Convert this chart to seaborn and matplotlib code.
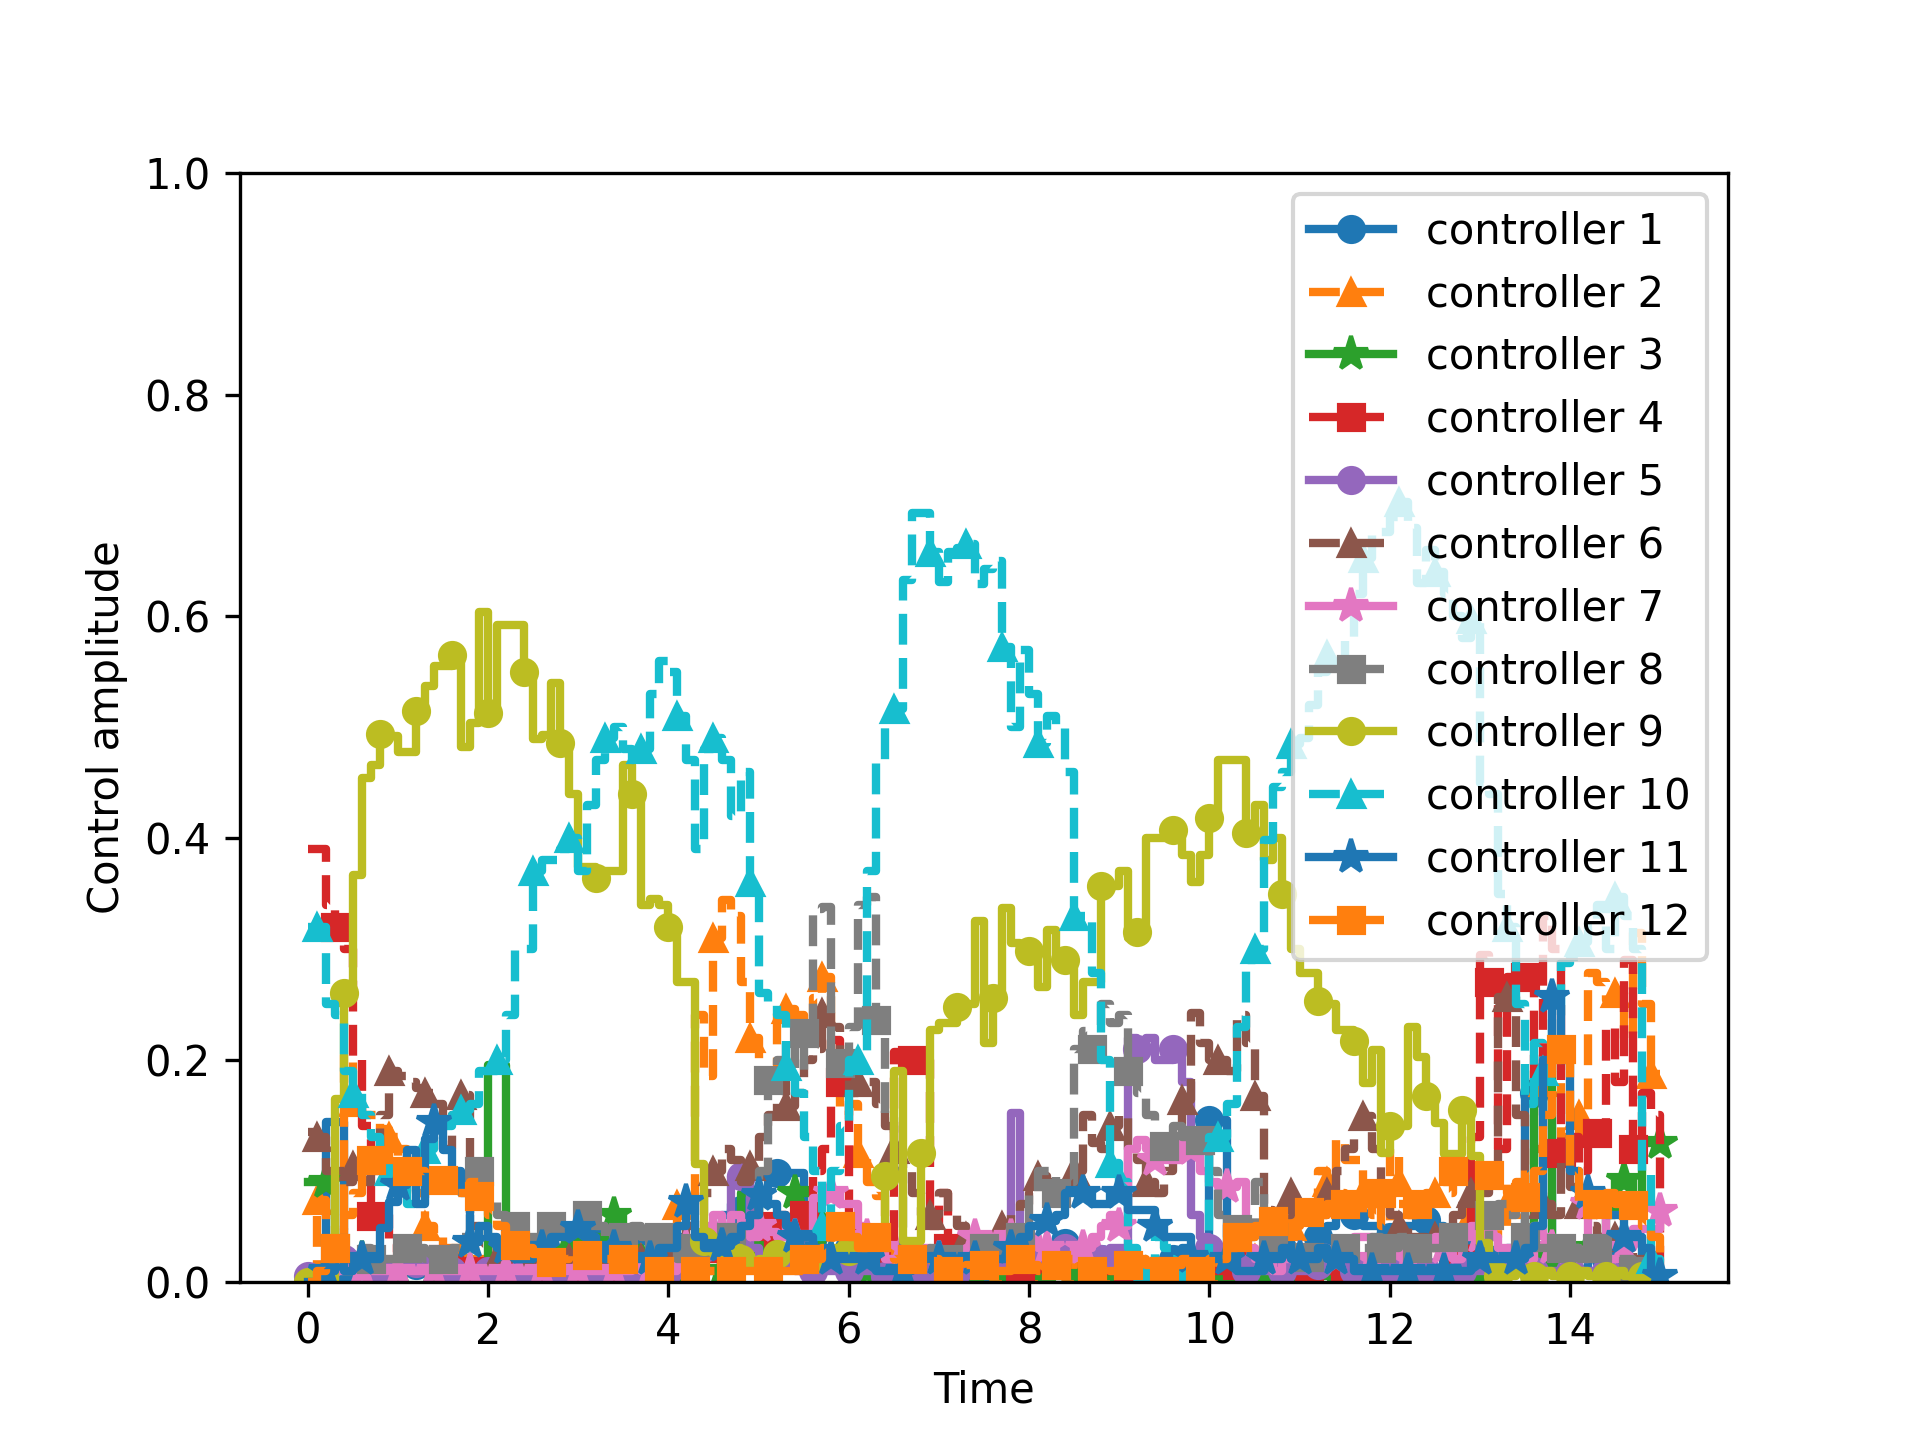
"""
Control amplitudes of 12 controllers over time (step plot)
"""

import numpy as np
import matplotlib
matplotlib.use("Agg")
import matplotlib.pyplot as plt
import seaborn as sbn

# time grid, 0.1 per slot, 0 .. 15
time = [round(0.1 * i, 1) for i in range(151)]

ctrl_1 = [
    0.0, 0.01, 0.144, 0.144, 0.01, 0.005, 0.005, 0.005, 0.005, 0.01,
    0.01, 0.01, 0.015, 0.01, 0.01, 0.02, 0.02, 0.015, 0.01, 0.01,
    0.01, 0.01, 0.015, 0.02, 0.02, 0.015, 0.01, 0.01, 0.015, 0.02,
    0.03, 0.03, 0.04, 0.035, 0.03, 0.03, 0.04, 0.04, 0.035, 0.03,
    0.03, 0.04, 0.03, 0.02, 0.03, 0.05, 0.06, 0.07, 0.065, 0.07,
    0.075, 0.098, 0.098, 0.098, 0.098, 0.03, 0.04, 0.05, 0.045, 0.04,
    0.03, 0.02, 0.02, 0.015, 0.01, 0.02, 0.02, 0.02, 0.015, 0.01,
    0.01, 0.015, 0.02, 0.02, 0.015, 0.01, 0.01, 0.02, 0.03, 0.02,
    0.02, 0.025, 0.03, 0.04, 0.035, 0.03, 0.03, 0.02, 0.02, 0.02,
    0.02, 0.015, 0.01, 0.01, 0.015, 0.02, 0.02, 0.03, 0.02, 0.02,
    0.146, 0.146, 0.02, 0.01, 0.01, 0.01, 0.02, 0.03, 0.03, 0.03,
    0.03, 0.04, 0.04, 0.05, 0.06, 0.06, 0.06, 0.05, 0.05, 0.04,
    0.04, 0.05, 0.05, 0.05, 0.056, 0.05, 0.04, 0.04, 0.03, 0.03,
    0.02, 0.02, 0.02, 0.03, 0.03, 0.17, 0.17, 0.15, 0.02, 0.02,
    0.01, 0.01, 0.02, 0.02, 0.02, 0.01, 0.04, 0.04, 0.01, 0.01,
    0.0]

ctrl_2 = [
    0.0, 0.074, 0.05, 0.02, 0.204, 0.162, 0.15, 0.15, 0.138, 0.13,
    0.12, 0.10, 0.08, 0.05, 0.04, 0.03, 0.03, 0.02, 0.02, 0.02,
    0.02, 0.015, 0.02, 0.02, 0.02, 0.025, 0.02, 0.02, 0.015, 0.02,
    0.02, 0.015, 0.02, 0.02, 0.015, 0.02, 0.02, 0.02, 0.015, 0.02,
    0.02, 0.069, 0.07, 0.24, 0.185, 0.31, 0.344, 0.33, 0.27, 0.22,
    0.19, 0.19, 0.246, 0.246, 0.24, 0.23, 0.256, 0.275, 0.19, 0.15,
    0.16, 0.116, 0.09, 0.077, 0.03, 0.02, 0.02, 0.015, 0.01, 0.01,
    0.01, 0.01, 0.01, 0.015, 0.01, 0.01, 0.01, 0.01, 0.015, 0.01,
    0.01, 0.01, 0.01, 0.02, 0.01, 0.01, 0.01, 0.01, 0.01, 0.01,
    0.01, 0.01, 0.01, 0.01, 0.01, 0.01, 0.01, 0.01, 0.01, 0.01,
    0.01, 0.01, 0.01, 0.01, 0.02, 0.02, 0.03, 0.03, 0.04, 0.05,
    0.06, 0.07, 0.10, 0.09, 0.128, 0.11, 0.11, 0.08, 0.07, 0.05,
    0.12, 0.09, 0.06, 0.06, 0.07, 0.08, 0.08, 0.11, 0.094, 0.06,
    0.05, 0.04, 0.05, 0.07, 0.09, 0.10, 0.12, 0.18, 0.21, 0.13,
    0.12, 0.15, 0.278, 0.27, 0.254, 0.26, 0.22, 0.314, 0.25, 0.187,
    0.187]

ctrl_3 = [
    0.09, 0.09, 0.09, 0.02, 0.01, 0.01, 0.02, 0.02, 0.01, 0.01,
    0.01, 0.01, 0.01, 0.01, 0.01, 0.01, 0.01, 0.01, 0.01, 0.01,
    0.195, 0.195, 0.02, 0.02, 0.02, 0.02, 0.02, 0.03, 0.03, 0.03,
    0.03, 0.03, 0.04, 0.05, 0.06, 0.04, 0.03, 0.02, 0.02, 0.01,
    0.01, 0.01, 0.01, 0.01, 0.01, 0.01, 0.01, 0.01, 0.08, 0.08,
    0.03, 0.03, 0.04, 0.05, 0.08, 0.08, 0.06, 0.03, 0.02, 0.02,
    0.02, 0.01, 0.01, 0.01, 0.01, 0.01, 0.005, 0.005, 0.005, 0.005,
    0.005, 0.005, 0.005, 0.005, 0.005, 0.005, 0.005, 0.005, 0.005, 0.005,
    0.005, 0.005, 0.005, 0.005, 0.005, 0.005, 0.005, 0.005, 0.005, 0.005,
    0.005, 0.005, 0.005, 0.005, 0.005, 0.005, 0.005, 0.005, 0.005, 0.005,
    0.005, 0.005, 0.005, 0.005, 0.005, 0.005, 0.005, 0.005, 0.005, 0.005,
    0.005, 0.005, 0.005, 0.005, 0.005, 0.005, 0.005, 0.005, 0.005, 0.005,
    0.005, 0.005, 0.005, 0.005, 0.005, 0.005, 0.005, 0.005, 0.005, 0.005,
    0.005, 0.005, 0.005, 0.01, 0.02, 0.02, 0.19, 0.19, 0.02, 0.02,
    0.02, 0.03, 0.03, 0.04, 0.06, 0.092, 0.092, 0.06, 0.125, 0.125,
    0.125]

ctrl_4 = [
    0.39, 0.39, 0.34, 0.32, 0.30, 0.20, 0.14, 0.059, 0.06, 0.03,
    0.02, 0.02, 0.02, 0.02, 0.015, 0.02, 0.02, 0.01, 0.01, 0.01,
    0.01, 0.01, 0.01, 0.01, 0.01, 0.015, 0.01, 0.01, 0.01, 0.01,
    0.01, 0.01, 0.01, 0.01, 0.01, 0.01, 0.01, 0.01, 0.01, 0.01,
    0.01, 0.02, 0.02, 0.03, 0.02, 0.02, 0.02, 0.03, 0.02, 0.02,
    0.03, 0.05, 0.06, 0.04, 0.04, 0.06, 0.10, 0.12, 0.218, 0.18,
    0.05, 0.031, 0.02, 0.02, 0.03, 0.207, 0.20, 0.20, 0.20, 0.05,
    0.08, 0.03, 0.02, 0.03, 0.02, 0.02, 0.02, 0.015, 0.01, 0.01,
    0.01, 0.015, 0.02, 0.015, 0.01, 0.01, 0.02, 0.015, 0.01, 0.01,
    0.01, 0.01, 0.015, 0.01, 0.01, 0.01, 0.015, 0.02, 0.01, 0.01,
    0.01, 0.01, 0.01, 0.015, 0.01, 0.01, 0.01, 0.02, 0.015, 0.01,
    0.01, 0.01, 0.015, 0.01, 0.01, 0.01, 0.01, 0.015, 0.02, 0.01,
    0.01, 0.01, 0.01, 0.015, 0.01, 0.01, 0.02, 0.02, 0.02, 0.13,
    0.295, 0.27, 0.12, 0.275, 0.28, 0.275, 0.18, 0.33, 0.30, 0.116,
    0.13, 0.10, 0.13, 0.134, 0.23, 0.18, 0.29, 0.12, 0.17, 0.15,
    0.01]

ctrl_5 = [
    0.005, 0.01, 0.01, 0.02, 0.02, 0.02, 0.01, 0.01, 0.01, 0.01,
    0.015, 0.017, 0.017, 0.02, 0.01, 0.01, 0.01, 0.01, 0.01, 0.01,
    0.01, 0.01, 0.01, 0.01, 0.01, 0.01, 0.01, 0.01, 0.01, 0.01,
    0.01, 0.01, 0.01, 0.01, 0.01, 0.01, 0.01, 0.01, 0.01, 0.01,
    0.01, 0.01, 0.01, 0.02, 0.03, 0.03, 0.04, 0.095, 0.095, 0.03,
    0.02, 0.02, 0.02, 0.02, 0.01, 0.01, 0.01, 0.01, 0.01, 0.01,
    0.01, 0.01, 0.01, 0.01, 0.005, 0.005, 0.005, 0.005, 0.005, 0.01,
    0.01, 0.01, 0.01, 0.02, 0.02, 0.02, 0.02, 0.02, 0.152, 0.02,
    0.02, 0.02, 0.02, 0.03, 0.03, 0.03, 0.02, 0.02, 0.02, 0.03,
    0.03, 0.22, 0.21, 0.22, 0.20, 0.20, 0.21, 0.18, 0.06, 0.04,
    0.03, 0.02, 0.02, 0.02, 0.01, 0.01, 0.01, 0.01, 0.01, 0.01,
    0.01, 0.01, 0.015, 0.02, 0.02, 0.015, 0.01, 0.01, 0.01, 0.01,
    0.01, 0.01, 0.01, 0.01, 0.01, 0.01, 0.01, 0.01, 0.01, 0.01,
    0.01, 0.01, 0.01, 0.01, 0.01, 0.01, 0.01, 0.01, 0.01, 0.01,
    0.01, 0.01, 0.01, 0.01, 0.01, 0.01, 0.01, 0.01, 0.01, 0.01,
    0.005]

ctrl_6 = [
    0.135, 0.13, 0.10, 0.10, 0.09, 0.104, 0.09, 0.10, 0.15, 0.19,
    0.185, 0.18, 0.175, 0.17, 0.16, 0.12, 0.15, 0.168, 0.05, 0.03,
    0.03, 0.02, 0.02, 0.02, 0.02, 0.02, 0.02, 0.02, 0.02, 0.02,
    0.02, 0.02, 0.02, 0.02, 0.02, 0.02, 0.02, 0.02, 0.02, 0.02,
    0.02, 0.03, 0.05, 0.06, 0.08, 0.10, 0.12, 0.11, 0.09, 0.104,
    0.13, 0.15, 0.18, 0.158, 0.17, 0.20, 0.21, 0.242, 0.23, 0.19,
    0.17, 0.18, 0.18, 0.16, 0.14, 0.12, 0.10, 0.08, 0.06, 0.06,
    0.08, 0.06, 0.05, 0.04, 0.03, 0.03, 0.04, 0.05, 0.06, 0.07,
    0.08, 0.095, 0.09, 0.08, 0.09, 0.10, 0.15, 0.125, 0.12, 0.14,
    0.15, 0.12, 0.11, 0.09, 0.08, 0.10, 0.13, 0.164, 0.242, 0.215,
    0.20, 0.20, 0.19, 0.24, 0.215, 0.167, 0.065, 0.05, 0.06, 0.08,
    0.06, 0.05, 0.06, 0.08, 0.10, 0.12, 0.14, 0.149, 0.12, 0.08,
    0.06, 0.05, 0.04, 0.04, 0.03, 0.04, 0.05, 0.06, 0.07, 0.08,
    0.08, 0.10, 0.257, 0.257, 0.15, 0.10, 0.08, 0.07, 0.06, 0.11,
    0.085, 0.07, 0.05, 0.04, 0.03, 0.04, 0.03, 0.02, 0.02, 0.02,
    0.01]

ctrl_7 = [
    0.0, 0.005, 0.005, 0.01, 0.01, 0.01, 0.01, 0.01, 0.01, 0.01,
    0.01, 0.01, 0.01, 0.01, 0.01, 0.01, 0.01, 0.01, 0.01, 0.01,
    0.01, 0.01, 0.01, 0.01, 0.01, 0.01, 0.01, 0.01, 0.01, 0.01,
    0.01, 0.01, 0.01, 0.01, 0.01, 0.01, 0.015, 0.01, 0.01, 0.01,
    0.01, 0.02, 0.03, 0.04, 0.05, 0.06, 0.045, 0.06, 0.05, 0.04,
    0.05, 0.045, 0.04, 0.05, 0.04, 0.04, 0.075, 0.075, 0.08, 0.07,
    0.07, 0.05, 0.04, 0.03, 0.02, 0.02, 0.03, 0.02, 0.03, 0.02,
    0.02, 0.02, 0.02, 0.03, 0.04, 0.04, 0.04, 0.04, 0.04, 0.04,
    0.04, 0.03, 0.03, 0.02, 0.02, 0.03, 0.03, 0.04, 0.05, 0.06,
    0.05, 0.12, 0.128, 0.12, 0.11, 0.11, 0.11, 0.125, 0.12, 0.10,
    0.09, 0.085, 0.085, 0.09, 0.03, 0.02, 0.02, 0.01, 0.02, 0.02,
    0.02, 0.02, 0.03, 0.02, 0.02, 0.03, 0.04, 0.04, 0.02, 0.02,
    0.03, 0.03, 0.02, 0.02, 0.03, 0.04, 0.03, 0.02, 0.04, 0.05,
    0.04, 0.04, 0.03, 0.03, 0.02, 0.02, 0.05, 0.04, 0.03, 0.03,
    0.03, 0.02, 0.07, 0.07, 0.02, 0.02, 0.03, 0.047, 0.047, 0.047,
    0.064]

ctrl_8 = [
    0.0, 0.01, 0.02, 0.03, 0.02, 0.02, 0.03, 0.02, 0.02, 0.02,
    0.02, 0.03, 0.03, 0.02, 0.02, 0.02, 0.03, 0.04, 0.06, 0.10,
    0.08, 0.06, 0.05, 0.05, 0.04, 0.04, 0.04, 0.05, 0.04, 0.05,
    0.05, 0.06, 0.05, 0.04, 0.03, 0.04, 0.05, 0.04, 0.03, 0.04,
    0.03, 0.02, 0.02, 0.03, 0.03, 0.04, 0.04, 0.04, 0.05, 0.06,
    0.10, 0.182, 0.20, 0.22, 0.19, 0.224, 0.336, 0.338, 0.20, 0.197,
    0.23, 0.34, 0.347, 0.236, 0.15, 0.10, 0.03, 0.02, 0.02, 0.03,
    0.02, 0.02, 0.02, 0.02, 0.03, 0.03, 0.03, 0.02, 0.03, 0.04,
    0.08, 0.10, 0.10, 0.08, 0.09, 0.21, 0.226, 0.21, 0.25, 0.233,
    0.24, 0.19, 0.17, 0.15, 0.13, 0.122, 0.14, 0.13, 0.12, 0.128,
    0.10, 0.06, 0.04, 0.047, 0.04, 0.09, 0.06, 0.04, 0.03, 0.03,
    0.03, 0.022, 0.02, 0.02, 0.03, 0.03, 0.03, 0.03, 0.04, 0.03,
    0.03, 0.04, 0.04, 0.03, 0.03, 0.03, 0.03, 0.04, 0.03, 0.03,
    0.03, 0.06, 0.07, 0.06, 0.08, 0.04, 0.03, 0.03, 0.03, 0.03,
    0.03, 0.02, 0.02, 0.03, 0.02, 0.02, 0.02, 0.01, 0.01, 0.01,
    0.01]

ctrl_9 = [
    0.0, 0.0, 0.0, 0.165, 0.26, 0.367, 0.454, 0.466, 0.494, 0.492,
    0.478, 0.478, 0.515, 0.537, 0.555, 0.555, 0.565, 0.482, 0.504, 0.604,
    0.513, 0.592, 0.592, 0.592, 0.55, 0.489, 0.493, 0.54, 0.486, 0.44,
    0.374, 0.374, 0.364, 0.37, 0.37, 0.466, 0.44, 0.34, 0.345, 0.34,
    0.32, 0.27, 0.27, 0.106, 0.037, 0.025, 0.02, 0.03, 0.02, 0.015,
    0.02, 0.02, 0.025, 0.03, 0.02, 0.025, 0.02, 0.02, 0.03, 0.03,
    0.028, 0.03, 0.03, 0.03, 0.095, 0.19, 0.037, 0.037, 0.116, 0.227,
    0.233, 0.233, 0.248, 0.25, 0.325, 0.215, 0.256, 0.337, 0.305, 0.30,
    0.298, 0.266, 0.317, 0.29, 0.29, 0.24, 0.27, 0.27, 0.357, 0.357,
    0.37, 0.31, 0.315, 0.40, 0.40, 0.40, 0.407, 0.385, 0.36, 0.385,
    0.418, 0.47, 0.47, 0.47, 0.405, 0.43, 0.38, 0.40, 0.35, 0.30,
    0.278, 0.278, 0.253, 0.25, 0.227, 0.227, 0.217, 0.179, 0.209, 0.116,
    0.14, 0.14, 0.23, 0.203, 0.167, 0.143, 0.115, 0.115, 0.155, 0.113,
    0.035, 0.01, 0.005, 0.005, 0.01, 0.005, 0.005, 0.01, 0.005, 0.005,
    0.005, 0.01, 0.005, 0.005, 0.005, 0.01, 0.005, 0.005, 0.005, 0.005,
    0.005]

ctrl_10 = [
    0.32, 0.32, 0.25, 0.24, 0.19, 0.17, 0.15, 0.13, 0.11, 0.10,
    0.10, 0.07, 0.09, 0.12, 0.13, 0.14, 0.15, 0.155, 0.16, 0.19,
    0.19, 0.20, 0.24, 0.30, 0.30, 0.37, 0.38, 0.38, 0.39, 0.40,
    0.37, 0.43, 0.47, 0.49, 0.50, 0.48, 0.47, 0.48, 0.53, 0.56,
    0.55, 0.51, 0.47, 0.39, 0.48, 0.49, 0.47, 0.42, 0.46, 0.36,
    0.26, 0.25, 0.24, 0.194, 0.17, 0.13, 0.10, 0.05, 0.10, 0.14,
    0.20, 0.20, 0.37, 0.47, 0.50, 0.516, 0.633, 0.693, 0.693, 0.658,
    0.631, 0.658, 0.662, 0.665, 0.629, 0.643, 0.65, 0.572, 0.50, 0.57,
    0.53, 0.486, 0.51, 0.499, 0.46, 0.33, 0.33, 0.278, 0.20, 0.107,
    0.09, 0.03, 0.02, 0.01, 0.04, 0.03, 0.02, 0.01, 0.01, 0.02,
    0.13, 0.13, 0.16, 0.23, 0.29, 0.30, 0.398, 0.446, 0.46, 0.485,
    0.49, 0.52, 0.55, 0.565, 0.56, 0.58, 0.62, 0.653, 0.676, 0.676,
    0.69, 0.703, 0.68, 0.63, 0.66, 0.64, 0.62, 0.60, 0.58, 0.598,
    0.45, 0.44, 0.35, 0.32, 0.25, 0.16, 0.215, 0.19, 0.24, 0.287,
    0.293, 0.306, 0.32, 0.34, 0.30, 0.347, 0.33, 0.30, 0.10, 0.02,
    0.01]

ctrl_11 = [
    0.0, 0.0, 0.01, 0.02, 0.01, 0.02, 0.02, 0.02, 0.048, 0.072,
    0.087, 0.119, 0.07, 0.129, 0.144, 0.119, 0.10, 0.08, 0.036, 0.05,
    0.04, 0.03, 0.03, 0.02, 0.02, 0.03, 0.03, 0.04, 0.04, 0.05,
    0.048, 0.04, 0.03, 0.02, 0.03, 0.02, 0.02, 0.02, 0.02, 0.03,
    0.03, 0.05, 0.072, 0.04, 0.03, 0.03, 0.032, 0.04, 0.05, 0.06,
    0.078, 0.07, 0.06, 0.05, 0.04, 0.04, 0.03, 0.03, 0.02, 0.02,
    0.02, 0.02, 0.02, 0.01, 0.01, 0.01, 0.01, 0.02, 0.02, 0.02,
    0.02, 0.02, 0.02, 0.02, 0.02, 0.02, 0.02, 0.02, 0.03, 0.04,
    0.05, 0.05, 0.055, 0.06, 0.08, 0.08, 0.08, 0.07, 0.07, 0.08,
    0.08, 0.065, 0.065, 0.065, 0.05, 0.04, 0.04, 0.04, 0.022, 0.02,
    0.02, 0.02, 0.02, 0.01, 0.01, 0.01, 0.02, 0.02, 0.03, 0.02,
    0.02, 0.02, 0.03, 0.02, 0.02, 0.02, 0.01, 0.01, 0.01, 0.01,
    0.01, 0.01, 0.01, 0.01, 0.01, 0.01, 0.01, 0.01, 0.01, 0.02,
    0.02, 0.02, 0.02, 0.02, 0.02, 0.03, 0.05, 0.20, 0.257, 0.20,
    0.10, 0.08, 0.08, 0.07, 0.06, 0.06, 0.04, 0.04, 0.03, 0.01,
    0.005]

ctrl_12 = [
    0.0, 0.01, 0.02, 0.03, 0.06, 0.08, 0.10, 0.11, 0.10, 0.12,
    0.11, 0.10, 0.10, 0.09, 0.09, 0.092, 0.08, 0.08, 0.09, 0.077,
    0.06, 0.05, 0.04, 0.033, 0.03, 0.025, 0.02, 0.018, 0.02, 0.025,
    0.03, 0.024, 0.02, 0.02, 0.02, 0.02, 0.015, 0.015, 0.01, 0.01,
    0.01, 0.01, 0.01, 0.01, 0.01, 0.01, 0.01, 0.01, 0.01, 0.01,
    0.01, 0.01, 0.01, 0.01, 0.01, 0.02, 0.02, 0.03, 0.04, 0.05,
    0.04, 0.03, 0.04, 0.04, 0.03, 0.02, 0.02, 0.02, 0.02, 0.02,
    0.015, 0.01, 0.01, 0.015, 0.02, 0.015, 0.01, 0.01, 0.015, 0.02,
    0.015, 0.01, 0.01, 0.015, 0.02, 0.015, 0.01, 0.01, 0.015, 0.01,
    0.01, 0.015, 0.02, 0.015, 0.01, 0.01, 0.015, 0.02, 0.015, 0.01,
    0.02, 0.02, 0.03, 0.04, 0.04, 0.05, 0.06, 0.055, 0.06, 0.06,
    0.07, 0.063, 0.06, 0.07, 0.08, 0.07, 0.06, 0.07, 0.06, 0.08,
    0.08, 0.07, 0.06, 0.07, 0.08, 0.09, 0.09, 0.10, 0.10, 0.10,
    0.098, 0.096, 0.09, 0.08, 0.08, 0.076, 0.10, 0.15, 0.20, 0.21,
    0.10, 0.07, 0.06, 0.07, 0.08, 0.07, 0.07, 0.069, 0.05, 0.04,
    0.02]

controllers = [ctrl_1, ctrl_2, ctrl_3, ctrl_4, ctrl_5, ctrl_6,
               ctrl_7, ctrl_8, ctrl_9, ctrl_10, ctrl_11, ctrl_12]
labels = ["controller %d" % (i + 1) for i in range(12)]

markers = ["o", "^", "*", "s"]
# stars look small at the same size, so bump them
marker_sizes = [6, 6, 8.5, 6]
colors = sbn.color_palette("tab10", 10)

fig, ax = plt.subplots(figsize=(6.4, 4.8), dpi=300)

for i, vals in enumerate(controllers):
    col = colors[i % 10]
    style = "-" if i % 2 == 0 else "--"
    sbn.lineplot(x=time, y=vals, ax=ax, estimator=None, sort=False,
                 drawstyle="steps-post", color=col, linestyle=style,
                 marker=markers[i % 4], markevery=(i % 4, 4),
                 markersize=marker_sizes[i % 4], markeredgecolor=col,
                 markeredgewidth=1.0, linewidth=2, label=labels[i])

ax.set_ylim(0, 1.0)
ax.set_xlabel("Time")
ax.set_ylabel("Control amplitude")
ax.legend(loc="upper right")

plt.savefig("out.png", dpi=300)
